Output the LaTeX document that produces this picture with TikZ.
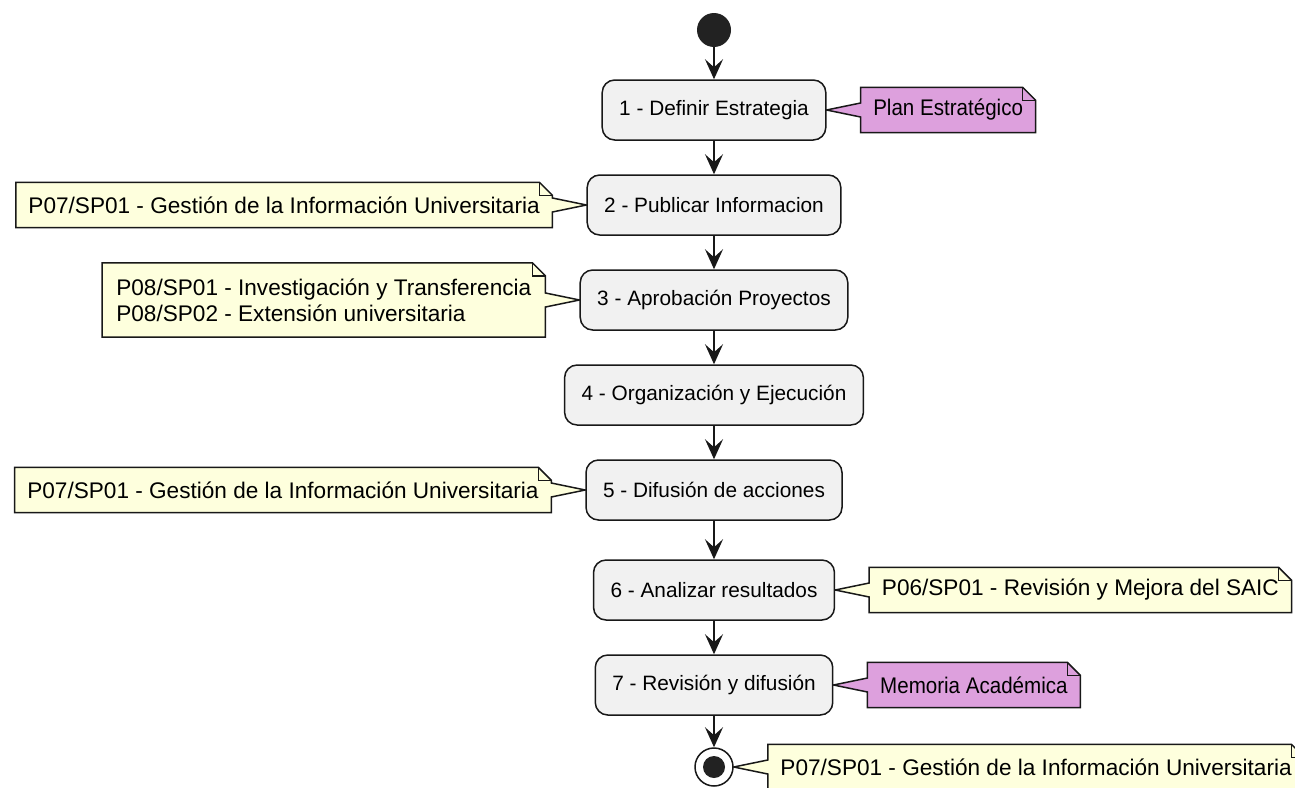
\documentclass[tikz,border=0pt]{standalone}
\usepackage{fontspec}
\setmainfont{Liberation Sans}
\newfontfamily\pinkfont[FakeStretch=0.91]{Liberation Sans}
\usetikzlibrary{arrows.meta,calc,backgrounds}
\definecolor{linec}{HTML}{181818}
\definecolor{actfill}{HTML}{F1F1F1}
\definecolor{notey}{HTML}{FEFFDD}
\definecolor{notep}{HTML}{DDA0DD}
\definecolor{startc}{HTML}{222222}
\tikzset{
  act/.style={draw=linec, fill=actfill, rounded corners=12.5pt, line width=1.5pt,
    minimum height=60pt, inner xsep=17pt, font=\fontsize{20.8}{25}\selectfont},
  notetext/.style={minimum height=45pt, inner xsep=12.5pt, inner ysep=0pt, align=left,
    font=\fontsize{22.6}{26}\selectfont},
  pinktext/.style={notetext, font=\pinkfont\fontsize{22.6}{26}\selectfont},
  noteline/.style={draw=linec, line width=1.5pt, line join=miter},
  flow/.style={draw=linec, line width=1.5pt, -{Stealth[length=20pt, width=18pt, inset=8pt]}},
}
\newcommand\noteR[3]{% note #1 on the right of target #2, fill #3
  \draw[noteline, fill=#3] (#1.north west) -- ($(#1.north east)+(-13,0)$) -- ($(#1.north east)+(0,13)$)
    -- (#1.south east) -- (#1.south west) -- ($(#1.west)+(0,7)$) -- (#2.east) -- ($(#1.west)+(0,-7)$) -- cycle;
  \draw[noteline] ($(#1.north east)+(-13,0)$) -- ($(#1.north east)+(-13,13)$) -- ($(#1.north east)+(0,13)$);
}
\newcommand\noteL[3]{% note #1 on the left of target #2, fill #3
  \draw[noteline, fill=#3] (#1.north west) -- ($(#1.north east)+(-13,0)$) -- ($(#1.north east)+(0,13)$)
    -- ($(#1.east)+(0,-7)$) -- (#2.west) -- ($(#1.east)+(0,7)$) -- (#1.south east) -- (#1.south west) -- cycle;
  \draw[noteline] ($(#1.north east)+(-13,0)$) -- ($(#1.north east)+(-13,13)$) -- ($(#1.north east)+(0,13)$);
}
\begin{document}
\begin{tikzpicture}[x=1pt, y=-1pt]
\useasboundingbox (0,0) rectangle (1295,787);
\clip (0,0) rectangle (1295,787);

\node[circle, fill=startc, minimum size=34pt, inner sep=0pt] (s) at (714,30) {};
\node[act] (a1) at (714,110) {1 - Definir Estrategia};
\node[act] (a2) at (714,205) {2 - Publicar Informacion};
\node[act] (a3) at (714,300) {3 - Aprobación Proyectos};
\node[act] (a4) at (714,395) {4 - Organización y Ejecución};
\node[act] (a5) at (714,490) {5 - Difusión de acciones};
\node[act] (a6) at (714,590) {6 - Analizar resultados};
\node[act] (a7) at (714,685) {7 - Revisión y difusión};
\node[circle, draw=linec, line width=1.5pt, fill=white, minimum size=38pt, inner sep=0pt] (e) at (714,767) {};
\node[circle, fill=startc, minimum size=22pt, inner sep=0pt] (ei) at (e.center) {};

\draw[flow] (s) -- (a1);
\draw[flow] (a1) -- (a2);
\draw[flow] (a2) -- (a3);
\draw[flow] (a3) -- (a4);
\draw[flow] (a4) -- (a5);
\draw[flow] (a5) -- (a6);
\draw[flow] (a6) -- (a7);
\draw[flow] (a7) -- (e);

\node[pinktext, anchor=west] (n1) at ($(a1.east)+(34,0)$) {Plan Estratégico};
\node[notetext, anchor=east] (n2) at ($(a2.west)+(-34,0)$) {P07/SP01 - Gestión de la Información Universitaria};
\node[notetext, anchor=east, minimum height=74pt, inner xsep=14pt] (n3) at ($(a3.west)+(-34,0)$) {P08/SP01 - Investigación y Transferencia\\P08/SP02 - Extensión universitaria};
\node[notetext, anchor=east] (n5) at ($(a5.west)+(-34,0)$) {P07/SP01 - Gestión de la Información Universitaria};
\node[notetext, anchor=west] (n6) at ($(a6.east)+(34,0)$) {P06/SP01 - Revisión y Mejora del SAIC};
\node[pinktext, anchor=west] (n7) at ($(a7.east)+(34,0)$) {Memoria Académica};
\node[notetext, anchor=west] (n8) at ($(e.east)+(34,0)$) {P07/SP01 - Gestión de la Información Universitaria};

\begin{scope}[on background layer]
\fill[white] (0,0) rectangle (1295,787);
\noteR{n1}{a1}{notep}
\noteL{n2}{a2}{notey}
\noteL{n3}{a3}{notey}
\noteL{n5}{a5}{notey}
\noteR{n6}{a6}{notey}
\noteR{n7}{a7}{notep}
\noteR{n8}{e}{notey}
\end{scope}
\end{tikzpicture}
\end{document}
